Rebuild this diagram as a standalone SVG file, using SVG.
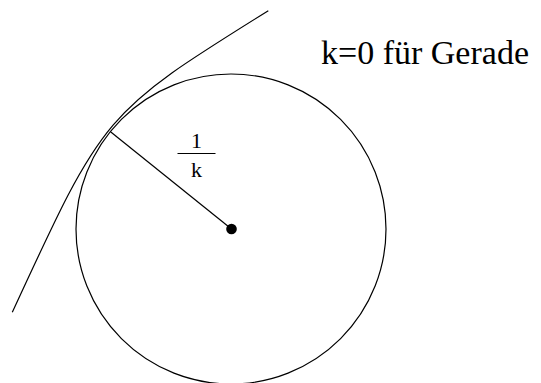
<svg xmlns="http://www.w3.org/2000/svg" width="541" height="383" viewBox="0 0 541 383">
  <style>
    .ln { fill: none; stroke: #000; stroke-width: 1.2; }
    .tx { fill: #000; font-family: "Liberation Serif", "Times New Roman", Times, serif; }
  </style>
  <rect width="541" height="383" fill="#fff"/>
  <g id="circle">
    <circle class="ln" cx="231" cy="229" r="155"/>
  </g>
  <g id="center">
    <circle cx="231.5" cy="229" r="5.3" fill="#000"/>
  </g>
  <g id="curve">
    <path class="ln" d="M268.3,10.7 C104,113 104,113 12.3,312.3"/>
  </g>
  <g id="radius-label">
    <text class="tx" x="196.5" y="147.5" font-size="22" text-anchor="middle">1</text>
    <line x1="177.5" y1="153.5" x2="215.5" y2="153.5" stroke="#000" stroke-width="1.2"/>
    <text class="tx" x="196.5" y="176.7" font-size="22" text-anchor="middle">k</text>
  </g>
  <g id="note">
    <text class="tx" x="321" y="63.5" font-size="34">k=0 für Gerade</text>
  </g>
  <g id="connectors">
    <line class="ln" x1="110.5" y1="131.7" x2="231.5" y2="229"/>
  </g>
</svg>
